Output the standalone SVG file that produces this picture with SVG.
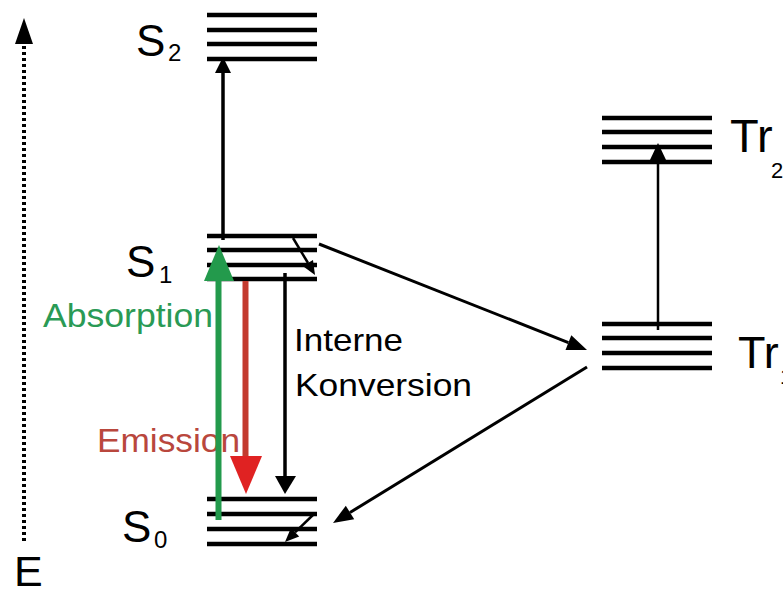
<svg xmlns="http://www.w3.org/2000/svg" width="783" height="591" viewBox="0 0 783 591">
<style>
.lvl{stroke:#000;stroke-width:4.5;fill:none}
.t{font-family:"Liberation Sans",Arial,sans-serif;fill:#000}
.ln{stroke:#000;fill:none}
.hd{fill:#000;stroke:none}
</style>
<rect width="783" height="591" fill="#fff"/>
<g id="axis-E">
<line x1="24" y1="46" x2="24" y2="541" stroke="#000" stroke-width="4" stroke-dasharray="3 3"/>
<polygon class="hd" points="24,18 15,44 33,44"/>
<text class="t" x="14" y="586" font-size="43">E</text>
</g>
<g id="S2">
<line class="lvl" x1="207" y1="15" x2="317" y2="15"/>
<line class="lvl" x1="207" y1="30" x2="317" y2="30"/>
<line class="lvl" x1="207" y1="44" x2="317" y2="44"/>
<line class="lvl" x1="207" y1="59" x2="317" y2="59"/>
<text class="t" x="136" y="56" font-size="44">S</text>
<text class="t" x="168" y="61" font-size="24">2</text>
</g>
<g id="S1">
<line class="lvl" x1="207" y1="236" x2="317" y2="236"/>
<line class="lvl" x1="207" y1="250" x2="317" y2="250"/>
<line class="lvl" x1="207" y1="265" x2="317" y2="265"/>
<line class="lvl" x1="207" y1="279" x2="317" y2="279"/>
<text class="t" x="126" y="277" font-size="44">S</text>
<text class="t" x="159" y="283" font-size="24">1</text>
</g>
<g id="S0">
<line class="lvl" x1="207" y1="499" x2="317" y2="499"/>
<line class="lvl" x1="207" y1="514" x2="317" y2="514"/>
<line class="lvl" x1="207" y1="529" x2="317" y2="529"/>
<line class="lvl" x1="207" y1="544" x2="317" y2="544"/>
<text class="t" x="122" y="542" font-size="44">S</text>
<text class="t" x="154" y="548" font-size="24">0</text>
</g>
<g id="Tr2">
<line class="lvl" x1="602" y1="118" x2="712" y2="118"/>
<line class="lvl" x1="602" y1="132" x2="712" y2="132"/>
<line class="lvl" x1="602" y1="147" x2="712" y2="147"/>
<line class="lvl" x1="602" y1="162" x2="712" y2="162"/>
<text class="t" x="730" y="152" font-size="47">Tr</text>
<text class="t" x="771" y="178" font-size="22">2</text>
</g>
<g id="Tr1">
<line class="lvl" x1="602" y1="324" x2="712" y2="324"/>
<line class="lvl" x1="602" y1="338" x2="712" y2="338"/>
<line class="lvl" x1="602" y1="353" x2="712" y2="353"/>
<line class="lvl" x1="602" y1="368" x2="712" y2="368"/>
<text class="t" x="738" y="368" font-size="45">Tr</text>
<text class="t" x="780" y="384" font-size="22">1</text>
</g>
<g id="labels">
<text class="t" x="43" y="327" font-size="34" style="fill:#2a9a55" textLength="170" lengthAdjust="spacingAndGlyphs">Absorption</text>
<text class="t" x="97" y="452" font-size="33" style="fill:#b9473d" textLength="143" lengthAdjust="spacingAndGlyphs">Emission</text>
<text class="t" x="294" y="351" font-size="32" textLength="109" lengthAdjust="spacingAndGlyphs">Interne</text>
<text class="t" x="295" y="396" font-size="32" textLength="177" lengthAdjust="spacingAndGlyphs">Konversion</text>
</g>
<g id="connectors">
<line class="ln" x1="223" y1="240" x2="223" y2="71" stroke-width="3.5"/>
<polygon class="hd" points="223,57 215,73 231,73"/>
<line class="ln" x1="658" y1="330" x2="658" y2="160" stroke-width="2.5"/>
<polygon class="hd" points="658,143 649,162 667,162"/>
<line class="ln" x1="285" y1="273" x2="285" y2="478" stroke-width="3.5"/>
<polygon class="hd" points="285,494 275,476 296,476"/>
<line x1="245.5" y1="281" x2="245.5" y2="458" stroke="#c33a2e" stroke-width="6"/>
<polygon points="246,494 230,456 262,456" fill="#e02222"/>
<line x1="218.5" y1="520" x2="218.5" y2="278" stroke="#239a4c" stroke-width="6"/>
<polygon points="219,245 204,281 234,281" fill="#239a4c"/>
<line class="ln" x1="293" y1="238" x2="308" y2="263" stroke-width="2.5"/>
<polygon class="hd" points="315,275 302.7,266 313,259.9"/>
<line class="ln" x1="315" y1="513" x2="295" y2="532.3" stroke-width="2.5"/>
<polygon class="hd" points="285,542 290.9,528 299.2,536.6"/>
<line class="ln" x1="319" y1="244" x2="568.4" y2="342.6" stroke-width="3"/>
<polygon class="hd" points="587,350 565.5,350.1 571.3,335.2"/>
<line class="ln" x1="587" y1="367" x2="350" y2="512.5" stroke-width="3"/>
<polygon class="hd" points="333,523 345.8,505.7 354.2,519.3"/>
</g>
</svg>
